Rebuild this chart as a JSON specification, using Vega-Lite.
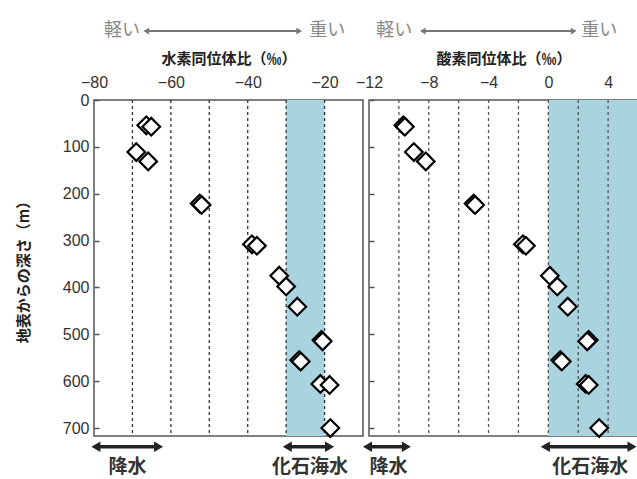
{
  "$schema": "https://vega.github.io/schema/vega-lite/v6.json",
  "padding": {"left": 15, "top": 21, "right": 0, "bottom": 0},
  "background": "white",
  "bounds": "flush",
  "datasets": {
    "samples": [
      {"depth": 54, "dD": -66.4, "d18O": -9.7},
      {"depth": 57, "dD": -65.1, "d18O": -9.6},
      {"depth": 111, "dD": -69.0, "d18O": -9.0},
      {"depth": 131, "dD": -65.9, "d18O": -8.2},
      {"depth": 221, "dD": -52.5, "d18O": -5.0},
      {"depth": 224, "dD": -52.0, "d18O": -4.9},
      {"depth": 308, "dD": -38.9, "d18O": -1.7},
      {"depth": 311, "dD": -37.6, "d18O": -1.5},
      {"depth": 375, "dD": -31.8, "d18O": 0.1},
      {"depth": 398, "dD": -30.0, "d18O": 0.6},
      {"depth": 441, "dD": -27.1, "d18O": 1.3},
      {"depth": 512, "dD": -20.8, "d18O": 2.7},
      {"depth": 515, "dD": -20.5, "d18O": 2.6},
      {"depth": 555, "dD": -26.6, "d18O": 0.8},
      {"depth": 558, "dD": -26.2, "d18O": 0.9},
      {"depth": 606, "dD": -21.1, "d18O": 2.5},
      {"depth": 608, "dD": -18.7, "d18O": 2.7},
      {"depth": 700, "dD": -18.5, "d18O": 3.4}
    ]
  },
  "config": {
    "view": {"stroke": "#555", "strokeWidth": 1.5},
    "font": "Liberation Sans",
    "axis": {"labelFont": "Liberation Sans", "labelFontSize": 16, "labelColor": "#333", "titleFont": "Noto Sans CJK JP", "titleFontSize": 15, "titleFontWeight": "bold", "titleColor": "#222"}
  },
  "hconcat": [
    {
      "width": 269,
      "height": 336,
      "layer": [
        {
          "data": {"values": [{"lo": -30, "hi": -20}]},
          "mark": {"type": "rect", "color": "#a8d3df"},
          "encoding": {
            "x": {"field": "lo", "type": "quantitative", "scale": {"domain": [-80, -10], "nice": false, "zero": false},
              "axis": {"orient": "top", "title": "水素同位体比（‰）", "values": [-80, -70, -60, -50, -40, -30, -20, -10], "labelExpr": "datum.value % 20 == 0 ? datum.label : ''", "ticks": false, "domain": false, "grid": false, "labelPadding": 10, "titlePadding": 8, "labelFlush": false}},
            "x2": {"field": "hi"}
          }
        },
        {
          "data": {"values": [{"g": -70}, {"g": -60}, {"g": -50}, {"g": -40}, {"g": -30}, {"g": -20}]},
          "mark": {"type": "rule", "strokeDash": [3, 3], "color": "#333", "strokeWidth": 1.3},
          "encoding": {"x": {"field": "g", "type": "quantitative", "title": "水素同位体比（‰）"}}
        },
        {
          "data": {"name": "samples"},
          "mark": {"type": "point", "shape": "diamond", "filled": true, "fill": "white", "stroke": "black", "strokeWidth": 2.2, "size": 310, "opacity": 1},
          "encoding": {
            "x": {"field": "dD", "type": "quantitative", "title": "水素同位体比（‰）"},
            "y": {"field": "depth", "type": "quantitative", "scale": {"domain": [0, 717], "nice": false, "reverse": true},
              "axis": {"orient": "left", "title": "地表からの深さ（m）", "values": [0, 100, 200, 300, 400, 500, 600, 700], "grid": false, "domain": false, "tickSize": -5, "tickWidth": 1.5, "tickColor": "#555", "labelPadding": 10, "titlePadding": 31, "zindex": 1}}
          }
        },
        {
          "data": {"values": [{"x1": -66.4, "x2": -26.6, "light": -68, "heavy": -24}]},
          "layer": [
            {"mark": {"type": "rule", "color": "#777", "strokeWidth": 2}, "encoding": {"x": {"field": "x1", "type": "quantitative", "title": "水素同位体比（‰）"}, "x2": {"field": "x2"}, "y": {"datum": -147}}},
            {"mark": {"type": "point", "shape": "triangle-left", "filled": true, "color": "#777", "size": 45, "opacity": 1}, "encoding": {"x": {"field": "x1", "type": "quantitative"}, "y": {"datum": -147}}},
            {"mark": {"type": "point", "shape": "triangle-right", "filled": true, "color": "#777", "size": 45, "opacity": 1}, "encoding": {"x": {"field": "x2", "type": "quantitative"}, "y": {"datum": -147}}},
            {"mark": {"type": "text", "text": "軽い", "align": "right", "baseline": "middle", "font": "Noto Sans CJK JP", "fontSize": 18, "color": "#888"}, "encoding": {"x": {"field": "light", "type": "quantitative"}, "y": {"datum": -147}}},
            {"mark": {"type": "text", "text": "重い", "align": "left", "baseline": "middle", "font": "Noto Sans CJK JP", "fontSize": 18, "color": "#888"}, "encoding": {"x": {"field": "heavy", "type": "quantitative"}, "y": {"datum": -147}}}
          ]
        },
        {
          "data": {"values": [{"label": "降水", "x1": -79.5, "x2": -63.2, "xm": -71.3}, {"label": "化石海水", "x1": -29.7, "x2": -18.7, "xm": -23.8}]},
          "layer": [
            {"mark": {"type": "rule", "color": "#222", "strokeWidth": 3.5}, "encoding": {"x": {"field": "x1", "type": "quantitative"}, "x2": {"field": "x2"}, "y": {"datum": 740}}},
            {"mark": {"type": "point", "shape": "triangle-left", "filled": true, "color": "#222", "size": 110, "opacity": 1}, "encoding": {"x": {"field": "x1", "type": "quantitative"}, "y": {"datum": 740}}},
            {"mark": {"type": "point", "shape": "triangle-right", "filled": true, "color": "#222", "size": 110, "opacity": 1}, "encoding": {"x": {"field": "x2", "type": "quantitative"}, "y": {"datum": 740}}},
            {"mark": {"type": "text", "align": "center", "baseline": "middle", "font": "Noto Sans CJK JP", "fontSize": 19, "fontWeight": "bold", "color": "#333"}, "encoding": {"x": {"field": "xm", "type": "quantitative"}, "y": {"datum": 783}, "text": {"field": "label"}}}
          ]
        }
      ]
    },
    {
      "width": 269,
      "height": 336,
      "layer": [
        {
          "data": {"values": [{"lo": 0, "hi": 6}]},
          "mark": {"type": "rect", "color": "#a8d3df"},
          "encoding": {
            "x": {"field": "lo", "type": "quantitative", "scale": {"domain": [-12, 6], "nice": false, "zero": false},
              "axis": {"orient": "top", "title": "酸素同位体比（‰）", "values": [-12, -10, -8, -6, -4, -2, 0, 2, 4, 6], "labelExpr": "(datum.value + 12) % 4 == 0 && datum.value < 6 ? datum.label : ''", "ticks": false, "domain": false, "grid": false, "labelPadding": 10, "titlePadding": 8, "labelFlush": false}},
            "x2": {"field": "hi"}
          }
        },
        {
          "data": {"values": [{"g": -10}, {"g": -8}, {"g": -6}, {"g": -4}, {"g": -2}, {"g": 0}, {"g": 2}, {"g": 4}]},
          "mark": {"type": "rule", "strokeDash": [3, 3], "color": "#555", "strokeWidth": 1.3},
          "encoding": {"x": {"field": "g", "type": "quantitative", "title": "酸素同位体比（‰）"}}
        },
        {
          "data": {"name": "samples"},
          "mark": {"type": "point", "shape": "diamond", "filled": true, "fill": "white", "stroke": "black", "strokeWidth": 2.2, "size": 310, "opacity": 1},
          "encoding": {
            "x": {"field": "d18O", "type": "quantitative", "title": "酸素同位体比（‰）"},
            "y": {"field": "depth", "type": "quantitative", "scale": {"domain": [0, 717], "nice": false, "reverse": true},
              "axis": {"orient": "left", "title": null, "values": [0, 100, 200, 300, 400, 500, 600, 700], "labels": false, "grid": false, "domain": false, "tickSize": -5, "tickWidth": 1.5, "tickColor": "#555", "zindex": 1}}
          }
        },
        {
          "data": {"values": [{"x1": -8.4, "x2": 1.7, "light": -9.1, "heavy": 2.2}]},
          "layer": [
            {"mark": {"type": "rule", "color": "#777", "strokeWidth": 2}, "encoding": {"x": {"field": "x1", "type": "quantitative", "title": "酸素同位体比（‰）"}, "x2": {"field": "x2"}, "y": {"datum": -147}}},
            {"mark": {"type": "point", "shape": "triangle-left", "filled": true, "color": "#777", "size": 45, "opacity": 1}, "encoding": {"x": {"field": "x1", "type": "quantitative"}, "y": {"datum": -147}}},
            {"mark": {"type": "point", "shape": "triangle-right", "filled": true, "color": "#777", "size": 45, "opacity": 1}, "encoding": {"x": {"field": "x2", "type": "quantitative"}, "y": {"datum": -147}}},
            {"mark": {"type": "text", "text": "軽い", "align": "right", "baseline": "middle", "font": "Noto Sans CJK JP", "fontSize": 18, "color": "#888"}, "encoding": {"x": {"field": "light", "type": "quantitative"}, "y": {"datum": -147}}},
            {"mark": {"type": "text", "text": "重い", "align": "left", "baseline": "middle", "font": "Noto Sans CJK JP", "fontSize": 18, "color": "#888"}, "encoding": {"x": {"field": "heavy", "type": "quantitative"}, "y": {"datum": -147}}}
          ]
        },
        {
          "data": {"values": [{"label": "降水", "x1": -12.1, "x2": -9.5, "xm": -10.7}, {"label": "化石海水", "x1": -0.2, "x2": 5.6, "xm": 2.8}]},
          "layer": [
            {"mark": {"type": "rule", "color": "#222", "strokeWidth": 3.5}, "encoding": {"x": {"field": "x1", "type": "quantitative"}, "x2": {"field": "x2"}, "y": {"datum": 740}}},
            {"mark": {"type": "point", "shape": "triangle-left", "filled": true, "color": "#222", "size": 110, "opacity": 1}, "encoding": {"x": {"field": "x1", "type": "quantitative"}, "y": {"datum": 740}}},
            {"mark": {"type": "point", "shape": "triangle-right", "filled": true, "color": "#222", "size": 110, "opacity": 1}, "encoding": {"x": {"field": "x2", "type": "quantitative"}, "y": {"datum": 740}}},
            {"mark": {"type": "text", "align": "center", "baseline": "middle", "font": "Noto Sans CJK JP", "fontSize": 19, "fontWeight": "bold", "color": "#333"}, "encoding": {"x": {"field": "xm", "type": "quantitative"}, "y": {"datum": 783}, "text": {"field": "label"}}}
          ]
        }
      ]
    }
  ],
  "spacing": 6
}
